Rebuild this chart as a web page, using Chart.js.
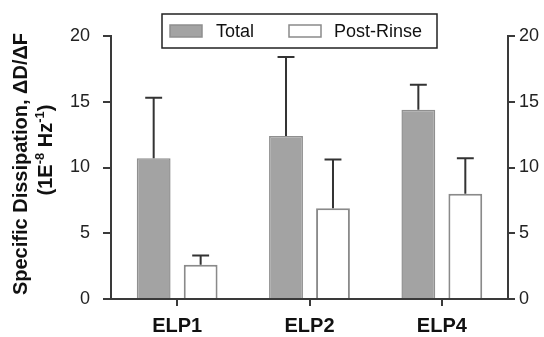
<!DOCTYPE html>
<html><head><meta charset="utf-8">
<script src="https://cdn.jsdelivr.net/npm/chart.js@4/dist/chart.umd.min.js"></script>
<style>html,body{margin:0;padding:0;background:#fff;overflow:hidden}</style>
</head><body>
<canvas id="c" width="544" height="337" style="width:544px;height:337px;display:block"></canvas>
<script>
// ---- data ----
const categories = ['ELP1', 'ELP2', 'ELP4'];
const seriesLabels = ['Total', 'Post-Rinse'];
const totalValues = [10.7, 12.4, 14.4];
const totalErrors = [4.6, 6.0, 1.9];
const postRinseValues = [2.6, 6.9, 8.0];
const postRinseErrors = [0.7, 3.7, 2.7];
const yTickValues = [0, 5, 10, 15, 20];
const yTitleLine1 = 'Specific Dissipation, \u0394D/\u0394F';
const yTitleLine2 = [['(1E', false], ['-8', true], [' Hz', false], ['-1', true], [')', false]];

const FONT = '"Liberation Sans", Arial, Helvetica, sans-serif';
const AXIS = '#3a3a3a';

const errorBarPlugin = {
  id: 'errorBars',
  afterDatasetsDraw(chart) {
    const ctx = chart.ctx;
    const yScale = chart.scales.y;
    chart.data.datasets.forEach((ds, i) => {
      const meta = chart.getDatasetMeta(i);
      meta.data.forEach((bar, j) => {
        const v = ds.data[j], e = ds.errors[j];
        const yTop = yScale.getPixelForValue(v + e);
        const yBase = yScale.getPixelForValue(v);
        const half = bar.width * 0.25;
        ctx.save();
        ctx.strokeStyle = '#333';
        ctx.lineWidth = 2;
        ctx.beginPath();
        ctx.moveTo(bar.x, yBase);
        ctx.lineTo(bar.x, yTop);
        ctx.moveTo(bar.x - half, yTop);
        ctx.lineTo(bar.x + half, yTop);
        ctx.stroke();
        ctx.restore();
      });
    });
  }
};

const legendTitlePlugin = {
  id: 'legendTitle',
  afterDraw(chart) {
    const ctx = chart.ctx;
    // legend box
    ctx.save();
    ctx.fillStyle = '#fff';
    ctx.fillRect(162, 14, 275, 34);
    ctx.strokeStyle = '#222';
    ctx.lineWidth = 1.5;
    ctx.strokeRect(162, 14, 275, 34);
    const items = [[170, 216], [289, 334]];
    chart.data.datasets.forEach((ds, i) => {
      const [sx, tx] = items[i];
      ctx.fillStyle = ds.backgroundColor;
      ctx.fillRect(sx, 25, 32, 12);
      ctx.strokeStyle = ds.borderColor;
      ctx.lineWidth = 1.5;
      ctx.strokeRect(sx, 25, 32, 12);
      ctx.fillStyle = '#111';
      ctx.font = '18px ' + FONT;
      ctx.textBaseline = 'middle';
      ctx.textAlign = 'left';
      ctx.fillText(ds.label, tx, 32);
    });
    // y-axis title
    ctx.translate(21, 164);
    ctx.rotate(-Math.PI / 2);
    ctx.font = 'bold 20px ' + FONT;
    ctx.textAlign = 'center';
    ctx.textBaseline = 'middle';
    ctx.fillStyle = '#111';
    ctx.fillText(yTitleLine1, 0, 0);
    ctx.restore();

    ctx.save();
    ctx.translate(46, 150);
    ctx.rotate(-Math.PI / 2);
    ctx.fillStyle = '#111';
    ctx.textBaseline = 'middle';
    ctx.textAlign = 'left';
    let w = 0;
    yTitleLine2.forEach(([t, sup]) => {
      ctx.font = (sup ? 'bold 13px ' : 'bold 20px ') + FONT;
      w += ctx.measureText(t).width;
    });
    let x = -w / 2;
    yTitleLine2.forEach(([t, sup]) => {
      ctx.font = (sup ? 'bold 13px ' : 'bold 20px ') + FONT;
      ctx.fillText(t, x, sup ? -6 : 0);
      x += ctx.measureText(t).width;
    });
    ctx.restore();
  }
};

new Chart(document.getElementById('c'), {
  type: 'bar',
  data: {
    labels: categories,
    datasets: [
      { label: seriesLabels[0], data: totalValues, errors: totalErrors,
        backgroundColor: '#a3a3a3', borderColor: '#8f8f8f', borderWidth: 1.5 },
      { label: seriesLabels[1], data: postRinseValues, errors: postRinseErrors,
        backgroundColor: '#ffffff', borderColor: '#8a8a8a', borderWidth: 2 }
    ]
  },
  options: {
    responsive: false,
    devicePixelRatio: 1,
    animation: false,
    categoryPercentage: 0.71,
    barPercentage: 0.72,
    layout: { padding: { top: 36, left: 0, right: 0, bottom: 0 } },
    plugins: { legend: { display: false }, tooltip: { enabled: false } },
    scales: {
      x: {
        grid: { offset: false, drawOnChartArea: false, drawTicks: true, tickLength: 7, color: AXIS, lineWidth: 2 },
        border: { display: true, color: AXIS, width: 2 },
        ticks: { color: '#111', font: { family: FONT, size: 20, weight: 'bold' }, padding: 8 },
        afterFit(s) { s.height = 38; }
      },
      y: {
        position: 'left', min: 0, max: 20,
        afterBuildTicks(s) { s.ticks = yTickValues.map(v => ({ value: v })); },
        grid: { drawOnChartArea: false, tickLength: 8, color: AXIS, lineWidth: 2 },
        border: { display: true, color: AXIS, width: 2 },
        ticks: { color: '#222', font: { family: FONT, size: 18 }, padding: 13 },
        afterFit(s) { s.width = 111; }
      },
      y2: {
        position: 'right', min: 0, max: 20,
        afterBuildTicks(s) { s.ticks = yTickValues.map(v => ({ value: v })); },
        grid: { drawOnChartArea: false, tickLength: 7, color: AXIS, lineWidth: 2 },
        border: { display: true, color: AXIS, width: 2 },
        ticks: { color: '#222', font: { family: FONT, size: 18 }, padding: 4 },
        afterFit(s) { s.width = 36; }
      }
    }
  },
  plugins: [errorBarPlugin, legendTitlePlugin]
});
</script>
</body></html>
